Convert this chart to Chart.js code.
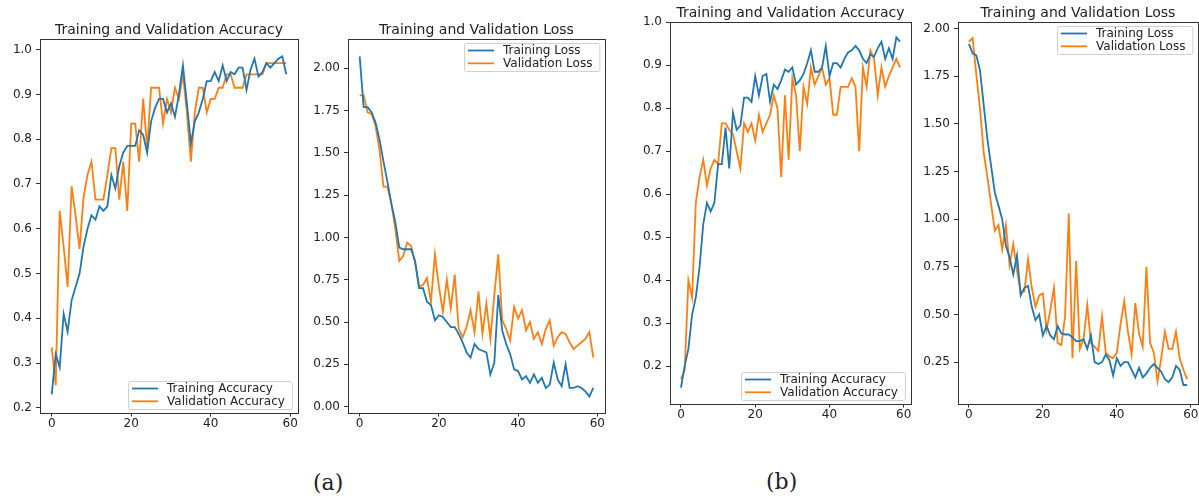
<!DOCTYPE html>
<html>
<head>
<meta charset="utf-8">
<script src="https://cdn.jsdelivr.net/npm/chart.js@4.4.0/dist/chart.umd.min.js"></script>
<style>
  body { margin: 0; width: 1199px; height: 498px; background: #fff; position: relative; overflow: hidden; }
  .panel { position: absolute; }
  .cap { position: absolute; font-family: 'DejaVu Serif', serif; font-size: 22px; color: #222; line-height: 1; }
</style>
</head>
<body>
<div class="panel" id="p1"><canvas id="c1"></canvas></div>
<div class="panel" id="p2"><canvas id="c2"></canvas></div>
<div class="panel" id="p3"><canvas id="c3"></canvas></div>
<div class="panel" id="p4"><canvas id="c4"></canvas></div>
<div class="cap" style="left:313px;top:472px">(a)</div>
<div class="cap" style="left:766px;top:471px">(b)</div>
<script>
// epochs and tick labels
const epochs = [0,1,2,3,4,5,6,7,8,9,10,11,12,13,14,15,16,17,18,19,20,21,22,23,24,25,26,27,28,29,
                30,31,32,33,34,35,36,37,38,39,40,41,42,43,44,45,46,47,48,49,50,51,52,53,54,55,56,57,58,59];
const xTicks = [0, 20, 40, 60];
const accTicks = [0.2, 0.3, 0.4, 0.5, 0.6, 0.7, 0.8, 0.9, 1.0];
const lossTicksA = [0, 0.25, 0.5, 0.75, 1.0, 1.25, 1.5, 1.75, 2.0];
const lossTicksB = [0.25, 0.5, 0.75, 1.0, 1.25, 1.5, 1.75, 2.0];

// (a)
const accTrainA = [0.23,0.32,0.29,0.41,0.37,0.44,0.47,0.50,0.56,0.60, 0.63,0.62,0.65,0.64,0.65,0.72,0.69,0.74,0.77,0.785,
                   0.785,0.785,0.82,0.81,0.77,0.84,0.87,0.89,0.89,0.86, 0.88,0.85,0.90,0.965,0.88,0.79,0.84,0.86,0.89,0.93,
                   0.93,0.95,0.93,0.965,0.93,0.95,0.945,0.96,0.96,0.91, 0.955,0.98,0.94,0.95,0.97,0.96,0.97,0.98,0.985,0.945];
const accValA = [0.335,0.25,0.64,0.56,0.47,0.695,0.63,0.555,0.67,0.72, 0.75,0.665,0.665,0.665,0.72,0.78,0.78,0.665,0.75,0.64,
                 0.835,0.835,0.75,0.89,0.78,0.915,0.915,0.915,0.835,0.89, 0.86,0.915,0.89,0.945,0.86,0.75,0.86,0.915,0.915,0.86,
                 0.89,0.89,0.915,0.915,0.945,0.945,0.915,0.915,0.915,0.945, 0.945,0.945,0.945,0.945,0.97,0.97,0.97,0.97,0.97,0.97];
const lossTrainA = [2.07,1.77,1.77,1.74,1.68,1.58,1.45,1.33,1.20,1.09, 0.94,0.93,0.93,0.93,0.86,0.70,0.70,0.62,0.60,0.51,
                    0.54,0.53,0.50,0.47,0.47,0.43,0.38,0.32,0.29,0.37, 0.34,0.33,0.32,0.19,0.26,0.66,0.45,0.37,0.31,0.22,
                    0.21,0.16,0.18,0.14,0.19,0.14,0.17,0.11,0.13,0.26, 0.16,0.12,0.25,0.11,0.11,0.12,0.11,0.09,0.06,0.11];
const lossValA = [1.84,1.84,1.74,1.73,1.66,1.52,1.30,1.30,1.20,1.05, 0.86,0.89,0.97,0.95,0.85,0.71,0.72,0.76,0.62,0.90,
                  0.71,0.56,0.75,0.58,0.78,0.46,0.41,0.47,0.57,0.44, 0.68,0.43,0.61,0.40,0.66,0.90,0.51,0.46,0.39,0.59,
                  0.52,0.57,0.45,0.50,0.40,0.44,0.37,0.46,0.51,0.36, 0.41,0.44,0.43,0.38,0.34,0.36,0.38,0.40,0.44,0.29];

// (b)
const accTrainB = [0.15,0.20,0.24,0.32,0.36,0.43,0.53,0.58,0.56,0.58, 0.67,0.67,0.755,0.66,0.79,0.75,0.76,0.825,0.825,0.815,
                   0.875,0.83,0.875,0.88,0.815,0.855,0.845,0.865,0.89,0.885, 0.895,0.855,0.865,0.88,0.905,0.935,0.885,0.885,0.895,0.945,
                   0.875,0.905,0.905,0.895,0.915,0.93,0.935,0.945,0.935,0.915, 0.905,0.925,0.92,0.94,0.955,0.915,0.94,0.915,0.965,0.955];
const accValB = [0.17,0.19,0.40,0.36,0.58,0.64,0.68,0.62,0.66,0.68, 0.67,0.765,0.765,0.75,0.74,0.70,0.66,0.765,0.745,0.765,
                 0.725,0.785,0.745,0.765,0.785,0.83,0.80,0.64,0.83,0.68, 0.87,0.83,0.70,0.85,0.81,0.895,0.855,0.875,0.895,0.855,
                 0.87,0.785,0.785,0.85,0.85,0.85,0.87,0.85,0.70,0.895, 0.85,0.935,0.915,0.83,0.895,0.85,0.875,0.895,0.915,0.895];
const lossTrainB = [1.92,1.87,1.86,1.78,1.60,1.42,1.28,1.14,1.07,1.00, 0.86,0.80,0.71,0.81,0.60,0.64,0.65,0.54,0.47,0.50,
                    0.39,0.44,0.39,0.37,0.44,0.40,0.395,0.395,0.38,0.36, 0.36,0.37,0.32,0.39,0.25,0.24,0.25,0.29,0.26,0.18,
                    0.27,0.23,0.25,0.25,0.21,0.17,0.22,0.17,0.19,0.22, 0.24,0.22,0.20,0.16,0.145,0.17,0.23,0.21,0.13,0.13];
const lossValB = [1.93,1.95,1.76,1.58,1.35,1.22,1.08,0.94,0.97,0.84, 0.97,0.76,0.87,0.73,0.62,0.62,0.79,0.64,0.54,0.60,
                  0.61,0.42,0.52,0.64,0.35,0.34,0.49,1.03,0.27,0.78, 0.32,0.37,0.55,0.35,0.33,0.31,0.49,0.30,0.28,0.27,
                  0.30,0.45,0.57,0.41,0.29,0.56,0.40,0.33,0.75,0.35, 0.30,0.15,0.27,0.41,0.32,0.32,0.41,0.27,0.21,0.16];

const BLUE = '#1f77b4';
const ORANGE = '#ff7f0e';
const INK = '#222';

// box around the plot area, like matplotlib
const frame = {
  id: 'frame',
  afterDraw(chart) {
    const a = chart.chartArea, ctx = chart.ctx;
    ctx.save();
    ctx.strokeStyle = '#333';
    ctx.lineWidth = 1;
    ctx.strokeRect(Math.round(a.left) + 0.5, Math.round(a.top) + 0.5,
                   Math.round(a.right - a.left), Math.round(a.bottom - a.top));
    ctx.restore();
  }
};

// legend drawn inside the plot area
const boxLegend = {
  id: 'boxLegend',
  afterDatasetsDraw(chart, args, opts) {
    const ctx = chart.ctx, a = chart.chartArea;
    const sets = chart.data.datasets;
    ctx.save();
    ctx.font = '12px "DejaVu Sans"';
    let tw = 0;
    sets.forEach(d => { tw = Math.max(tw, ctx.measureText(d.label).width); });
    const w = 40 + tw + 6, h = 28;
    const x = Math.round(a.right - 6 - w);
    const y = Math.round(opts.where === 'upper' ? a.top + 4 : a.bottom - 4 - h);
    ctx.fillStyle = 'rgba(255,255,255,0.8)';
    ctx.strokeStyle = '#d0d0d0';
    ctx.lineWidth = 1;
    ctx.beginPath();
    if (ctx.roundRect) ctx.roundRect(x + 0.5, y + 0.5, w, h, 2); else ctx.rect(x + 0.5, y + 0.5, w, h);
    ctx.fill();
    ctx.stroke();
    sets.forEach((d, i) => {
      const ly = y + 7.5 + i * 12.8;
      ctx.strokeStyle = d.borderColor;
      ctx.lineWidth = 1.8;
      ctx.beginPath();
      ctx.moveTo(x + 4, ly);
      ctx.lineTo(x + 30, ly);
      ctx.stroke();
      ctx.fillStyle = INK;
      ctx.textBaseline = 'middle';
      ctx.fillText(d.label, x + 39, ly + 0.5);
    });
    ctx.restore();
  }
};

function makePanel(n, box, title, names, train, val, yTicks, yMin, yMax, digits, where) {
  const yW = 40, xH = 22, titleSize = 14, titlePad = 1.5;
  const div = document.getElementById('p' + n);
  const left = box.L - yW, top = box.T - titleSize - titlePad;
  div.style.left = left + 'px';
  div.style.top = top + 'px';
  div.style.width = (box.R - left + 4) + 'px';
  div.style.height = (box.B + xH - top) + 'px';

  new Chart(document.getElementById('c' + n), {
    type: 'line',
    data: {
      labels: epochs,
      datasets: [
        { label: names[0], data: train, borderColor: BLUE, borderWidth: 1.8, pointRadius: 0, tension: 0, fill: false },
        { label: names[1], data: val, borderColor: ORANGE, borderWidth: 1.8, pointRadius: 0, tension: 0, fill: false }
      ]
    },
    options: {
      responsive: true,
      maintainAspectRatio: false,
      animation: false,
      layout: { padding: { left: 0, right: 4, top: 0, bottom: 0 } },
      plugins: {
        legend: { display: false },
        tooltip: { enabled: false },
        title: {
          display: true, text: title, color: INK, fullSize: false,
          font: { family: 'DejaVu Sans', size: titleSize, weight: 'normal', lineHeight: 1 },
          padding: { top: 0, bottom: titlePad }
        },
        boxLegend: { where: where }
      },
      scales: {
        x: {
          type: 'linear', min: -2.95, max: 61.95,
          afterBuildTicks: s => { s.ticks = xTicks.map(v => ({ value: v })); },
          afterFit: s => { s.height = xH; },
          grid: { drawOnChartArea: false, drawTicks: true, tickLength: 4, color: '#333' },
          border: { display: false },
          ticks: { color: INK, font: { family: 'DejaVu Sans', size: 12 }, padding: 0, maxRotation: 0, autoSkip: false,
                   callback: v => String(v) }
        },
        y: {
          type: 'linear', min: yMin, max: yMax,
          afterBuildTicks: s => { s.ticks = yTicks.map(v => ({ value: v })); },
          afterFit: s => { s.width = yW; },
          grid: { drawOnChartArea: false, drawTicks: true, tickLength: 4, color: '#333' },
          border: { display: false },
          ticks: { color: INK, font: { family: 'DejaVu Sans', size: 12 }, padding: 4, autoSkip: false,
                   callback: v => v.toFixed(digits) }
        }
      }
    },
    plugins: [frame, boxLegend]
  });
}

makePanel(1, { L: 40, T: 38, R: 298, B: 412 }, 'Training and Validation Accuracy',
  ['Training Accuracy', 'Validation Accuracy'], accTrainA, accValA, accTicks, 0.1895, 1.025, 1, 'lower');
makePanel(2, { L: 348, T: 38, R: 605, B: 412 }, 'Training and Validation Loss',
  ['Training Loss', 'Validation Loss'], lossTrainA, lossValA, lossTicksA, -0.035, 2.176, 2, 'upper');
makePanel(3, { L: 670, T: 21, R: 911, B: 403 }, 'Training and Validation Accuracy',
  ['Training Accuracy', 'Validation Accuracy'], accTrainB, accValB, accTicks, 0.113, 1.002, 1, 'lower');
makePanel(4, { L: 958, T: 21, R: 1198, B: 403 }, 'Training and Validation Loss',
  ['Training Loss', 'Validation Loss'], lossTrainB, lossValB, lossTicksB, 0.033, 2.037, 2, 'upper');
</script>
</body>
</html>
